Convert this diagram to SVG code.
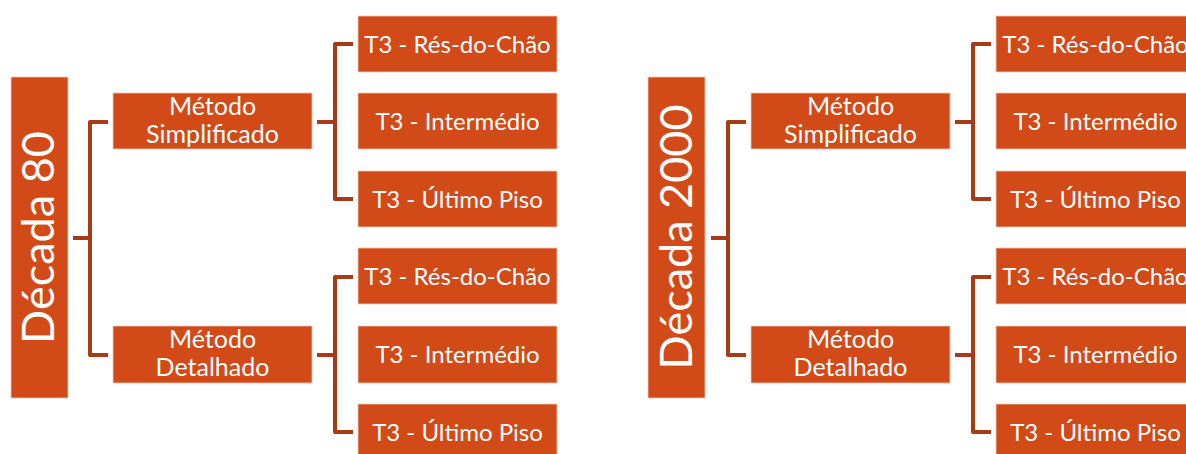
<svg xmlns="http://www.w3.org/2000/svg" width="1186" height="454" viewBox="0 0 1186 454">
  <style>
    .box { fill: #D24A18; stroke: #F3C9B8; stroke-width: 0.8; }
    .t { fill: #ffffff; font-family: Lato, "Liberation Sans", sans-serif; font-size: 24px; text-anchor: middle; }
    .m { font-size: 25px; }
    .root { fill: #ffffff; font-family: Lato, "Liberation Sans", sans-serif; font-size: 45px; text-anchor: middle; }
    .c { fill: none; stroke: #A83B16; stroke-width: 4; stroke-linejoin: round; stroke-linecap: butt; }
  </style>
  <rect width="1186" height="454" fill="#ffffff"/>

  <!-- Left diagram -->
  <g id="connectors-left">
    <path class="c" d="M73,238 H90"/>
    <path class="c" d="M108,122 H90 V355 H108"/>
    <path class="c" d="M317,122 H335"/>
    <path class="c" d="M353,44 H335 V199 H353"/>
    <path class="c" d="M317,355 H335"/>
    <path class="c" d="M353,277 H335 V432 H353"/>
  </g>
  <g id="root-80">
    <rect class="box" x="11" y="77" width="57" height="321"/>
    <text class="root" transform="translate(54,237.5) rotate(-90)">Década 80</text>
  </g>
  <g id="m-simpl-80">
    <rect class="box" x="113" y="93" width="199" height="56"/>
    <text class="t m" x="212.5" y="115">Método</text>
    <text class="t m" x="212.5" y="143">Simplificado</text>
  </g>
  <g id="m-det-80">
    <rect class="box" x="113" y="326" width="199" height="57"/>
    <text class="t m" x="212.5" y="348">Método</text>
    <text class="t m" x="212.5" y="376">Detalhado</text>
  </g>
  <g id="l1-80"><rect class="box" x="358" y="16" width="199" height="56"/><text class="t" x="457.5" y="52.5">T3 - Rés-do-Chão</text></g>
  <g id="l2-80"><rect class="box" x="358" y="93" width="199" height="56"/><text class="t" x="457.5" y="129.5">T3 - Intermédio</text></g>
  <g id="l3-80"><rect class="box" x="358" y="171" width="199" height="56"/><text class="t" x="457.5" y="207.5">T3 - Último Piso</text></g>
  <g id="l4-80"><rect class="box" x="358" y="248" width="199" height="56"/><text class="t" x="457.5" y="285">T3 - Rés-do-Chão</text></g>
  <g id="l5-80"><rect class="box" x="358" y="326" width="199" height="57"/><text class="t" x="457.5" y="363">T3 - Intermédio</text></g>
  <g id="l6-80"><rect class="box" x="358" y="404" width="199" height="56"/><text class="t" x="457.5" y="441">T3 - Último Piso</text></g>

  <!-- Right diagram -->
  <g id="connectors-right" transform="translate(638,0)">
    <path class="c" d="M73,238 H90"/>
    <path class="c" d="M108,122 H90 V355 H108"/>
    <path class="c" d="M317,122 H335"/>
    <path class="c" d="M353,44 H335 V199 H353"/>
    <path class="c" d="M317,355 H335"/>
    <path class="c" d="M353,277 H335 V432 H353"/>
  </g>
  <g id="root-2000">
    <rect class="box" x="648" y="77" width="57" height="321"/>
    <text class="root" transform="translate(692,237) rotate(-90)">Década 2000</text>
  </g>
  <g id="m-simpl-2000">
    <rect class="box" x="751" y="93" width="199" height="56"/>
    <text class="t m" x="850.5" y="115">Método</text>
    <text class="t m" x="850.5" y="143">Simplificado</text>
  </g>
  <g id="m-det-2000">
    <rect class="box" x="751" y="326" width="199" height="57"/>
    <text class="t m" x="850.5" y="348">Método</text>
    <text class="t m" x="850.5" y="376">Detalhado</text>
  </g>
  <g id="l1-2000"><rect class="box" x="996" y="16" width="199" height="56"/><text class="t" x="1095.5" y="52.5">T3 - Rés-do-Chão</text></g>
  <g id="l2-2000"><rect class="box" x="996" y="93" width="199" height="56"/><text class="t" x="1095.5" y="129.5">T3 - Intermédio</text></g>
  <g id="l3-2000"><rect class="box" x="996" y="171" width="199" height="56"/><text class="t" x="1095.5" y="207.5">T3 - Último Piso</text></g>
  <g id="l4-2000"><rect class="box" x="996" y="248" width="199" height="56"/><text class="t" x="1095.5" y="285">T3 - Rés-do-Chão</text></g>
  <g id="l5-2000"><rect class="box" x="996" y="326" width="199" height="57"/><text class="t" x="1095.5" y="363">T3 - Intermédio</text></g>
  <g id="l6-2000"><rect class="box" x="996" y="404" width="199" height="56"/><text class="t" x="1095.5" y="441">T3 - Último Piso</text></g>
</svg>
